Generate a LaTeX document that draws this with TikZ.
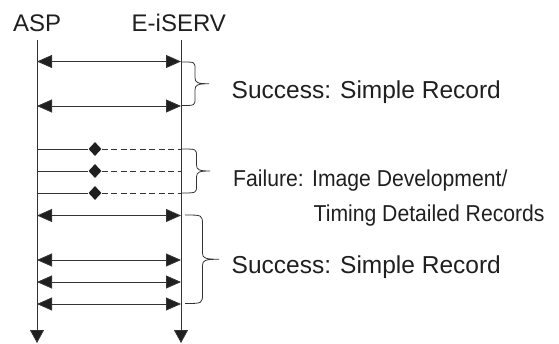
\documentclass[tikz,border=0pt]{standalone}
\usepackage{fontspec}
\setmainfont{Liberation Sans}
\usetikzlibrary{arrows.meta,shapes.geometric}

\definecolor{lncol}{gray}{0.2}
\definecolor{txtcol}{gray}{0.12}

% curly brace: #1 end x, #2 top y, #3 bottom y, #4 bar x, #5 tip x, #6 hook radius
\newcommand{\mybrace}[6]{%
  \pgfmathsetmacro{\bym}{(#2+#3)/2}%
  \draw[bracestyle] (#1,#2) .. controls (#4,#2) and (#4,#2) .. (#4,#2+#6)
    -- (#4,\bym-6) .. controls (#4,\bym-1) and (#4+3,\bym) .. (#5,\bym)
    .. controls (#4+3,\bym) and (#4,\bym+1) .. (#4,\bym+6)
    -- (#4,#3-#6) .. controls (#4,#3) and (#4,#3) .. (#1,#3);
}

\tikzset{
  lifeline/.style={draw=lncol, line width=0.9pt, -{Triangle[length=13pt,width=14pt,fill=txtcol]}},
  msg/.style={draw=lncol, line width=0.9pt, {Triangle[length=15pt,width=13pt,fill=txtcol]}-{Triangle[length=15pt,width=13pt,fill=txtcol]}},
  failsolid/.style={draw=lncol, line width=0.9pt},
  faildash/.style={draw=lncol, line width=0.9pt, dash pattern=on 6pt off 3.5pt},
  marker/.style={diamond, fill=txtcol, minimum width=13pt, minimum height=14pt, inner sep=0pt},
  bracestyle/.style={draw=lncol, line width=0.8pt},
  head/.style={text=txtcol, inner sep=0pt, anchor=base west, font=\fontsize{24}{28}\selectfont},
  label/.style={text=txtcol, inner sep=0pt, anchor=base west, font=\fontsize{24.5}{29}\selectfont},
  flabel/.style={text=txtcol, inner sep=0pt, anchor=base west, xscale=0.92, font=\fontsize{23}{27}\selectfont},
}

\begin{document}
\begin{tikzpicture}[x=1pt,y=-1pt]
\useasboundingbox (0,0) rectangle (559,344);

% headers
\node[head] (asp) at (13,31.7) {ASP};
\node[head] (srv) at (131.5,31.7) {E-iSERV};

% lifelines
\coordinate (aTop) at (37,40);
\coordinate (aBot) at (37,343);
\coordinate (sTop) at (181,40);
\coordinate (sBot) at (181,343);
\draw[lifeline] (aTop) -- (aBot);
\draw[lifeline] (sTop) -- (sBot);

% successful exchanges
\foreach \i/\y in {1/61.5, 2/106, 3/215.5, 4/260, 5/282, 6/304} {
  \coordinate (mL\i) at (37,\y);
  \coordinate (mR\i) at (181,\y);
  \draw[msg] (mL\i) -- (mR\i);
}

% failed exchanges
\foreach \i/\y in {1/149, 2/171, 3/193} {
  \coordinate (fL\i) at (37,\y);
  \coordinate (fR\i) at (181,\y);
  \node[marker] (fD\i) at (95,\y) {};
  \draw[failsolid] (fL\i) -- (fD\i);
  \draw[faildash] (fD\i) -- (fR\i);
}

% braces
\mybrace{182}{62}{105.5}{195}{209}{7}
\mybrace{181}{149}{193}{196.5}{210}{7}
\mybrace{185}{215}{303.5}{202.5}{219}{10}

% labels
\node[label] (ok1) at (231.5,98.3) {Success: Simple Record};
\node[flabel] (fail) at (233,186.7) {Failure:};
\node[flabel] (fail1) at (312,186.7) {Image Development/};
\node[flabel] (fail2) at (313.5,221.7) {Timing Detailed Records};
\node[label] (ok2) at (231.5,273.3) {Success: Simple Record};
\end{tikzpicture}
\end{document}
